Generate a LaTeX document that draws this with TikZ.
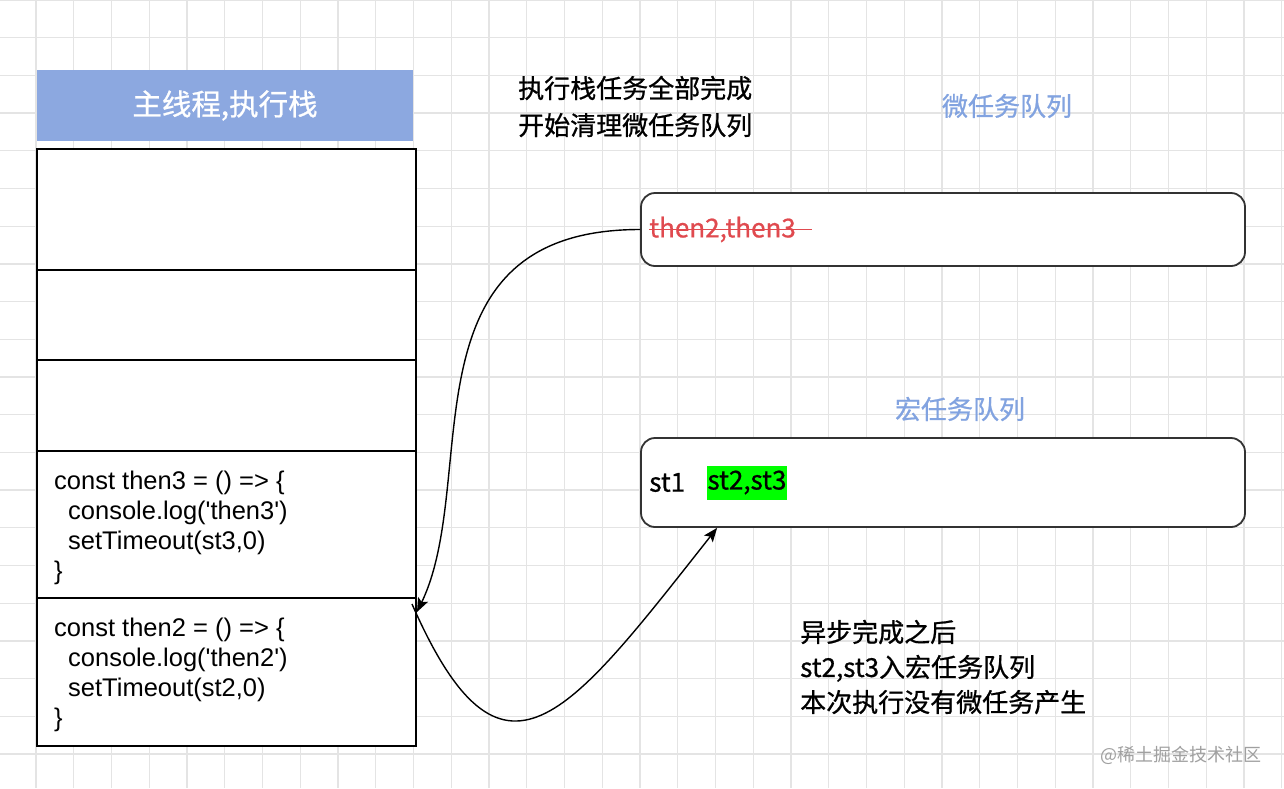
\documentclass[tikz,border=0pt]{standalone}
\usepackage{fontspec}
\setmainfont{Liberation Sans}
\newfontfamily\cjk{Noto Sans CJK SC}[FakeBold=0.8]
\newfontfamily\cjklight{Noto Sans CJK SC}
\usetikzlibrary{positioning,calc,arrows.meta}
\definecolor{gridgray}{HTML}{E4E4E4}
\definecolor{titleblue}{HTML}{8CA8E0}
\definecolor{queueblue}{HTML}{82A3E0}
\definecolor{boxgray}{HTML}{333333}
\definecolor{taskred}{HTML}{E04A4F}
\definecolor{hlgreen}{HTML}{00FF00}
\definecolor{markgray}{HTML}{A0A0A0}
\tikzset{
  gridline/.style={draw=gridgray, line width=1.3pt},
  titlebox/.style={fill=titleblue, text=white, minimum width=376pt, minimum height=71pt,
    inner sep=0pt, font=\cjk\fontsize{29.5}{35}\selectfont},
  stackcell/.style={draw=black, line width=2pt, fill=white, minimum width=379pt, inner sep=0pt},
  codetext/.style={align=left, inner sep=0pt, yshift=-3pt, font=\fontsize{25.5}{30}\selectfont},
  queuebox/.style={draw=boxgray, line width=1.8pt, fill=white, rounded corners=14pt,
    minimum width=604pt, inner sep=0pt},
  notetext/.style={align=left, inner sep=0pt, font=\cjk\fontsize{26}{37}\selectfont},
  queuetitle/.style={inner sep=0pt, text=queueblue, font=\cjk\fontsize{26}{30}\selectfont},
  flow/.style={line width=1.4pt, -{Stealth[length=14pt,width=11pt,inset=3pt]}}
}
\begin{document}
\begin{tikzpicture}[x=1pt,y=-1pt]
  \useasboundingbox[fill=white] (0,0) rectangle (1284,788);
  % grid
  \foreach \i in {-1,...,33} \draw[gridline] (36+37.75*\i,0) -- (36+37.75*\i,788);
  \foreach \j in {0,...,20} \draw[gridline] (0,37.7*\j) -- (1284,37.7*\j);

  % main thread stack
  \node[titlebox] (title) at (225,105.5) {主线程,执行栈};
  \node[stackcell, minimum height=121pt] (cella) at (226.5,209.5) {};
  \node[stackcell, minimum height=90pt] (cellb) at (226.5,315) {};
  \node[stackcell, minimum height=91pt] (cellc) at (226.5,405.5) {};
  \node[stackcell, minimum height=147pt] (then3cell) at (226.5,524.5) {};
  \node[stackcell, minimum height=148pt] (then2cell) at (226.5,672) {};
  \node[codetext, right=18pt of then3cell.west] (then3code)
    {const then3 = () => \{\\\hspace*{14pt}console.log(\textquotesingle then3\textquotesingle)\\\hspace*{14pt}setTimeout(st3,0)\\\}};
  \node[codetext, right=18pt of then2cell.west] (then2code)
    {const then2 = () => \{\\\hspace*{14pt}console.log(\textquotesingle then2\textquotesingle)\\\hspace*{14pt}setTimeout(st2,0)\\\}};

  % queues
  \node[notetext, anchor=west] (clearnote) at (518,106.5) {执行栈任务全部完成\\开始清理微任务队列};
  \node[queuetitle] (microtitle) at (1007,106) {微任务队列};
  \node[queuetitle] (macrotitle) at (960,409) {宏任务队列};
  \node[queuebox, minimum height=73pt] (micro) at (943,229.5) {};
  \node[queuebox, minimum height=89pt] (macro) at (943,482.5) {};
  \node[notetext, text=taskred, right=9pt of micro.west] (microitems) {then2,then3};
  \draw[taskred, line width=1.5pt] (microitems.west) -- ($(microitems.east)+(16,0)$);
  \node[notetext, right=9pt of macro.west] (st1) {st1};
  \node[notetext, fill=hlgreen, inner xsep=1pt, minimum height=34pt, right=21pt of st1] (st23) {st2,st3};

  \node[notetext, anchor=west, font=\cjk\fontsize{26}{35}\selectfont] (asyncnote) at (800,667)
    {异步完成之后\\st2,st3入宏任务队列\\本次执行没有微任务产生};
  \node[inner sep=0pt, text=markgray, font=\cjklight\fontsize{18}{20}\selectfont] (mark) at (1181,755) {@稀土掘金技术社区};

  % connectors
  \coordinate (backin) at ($(then2cell.north east)+(0,15)$);
  \coordinate (backout) at ($(then2cell.north east)+(-5,7)$);
  \coordinate (macroin) at ($(macro.south west)+(77,0)$);
  \draw[flow] (micro.west) .. controls +(-241,0) and +(64,-133) .. (backin);
  \draw[flow] (backout) .. controls +(90,205) and +(-150,190) .. (macroin);
\end{tikzpicture}
\end{document}
